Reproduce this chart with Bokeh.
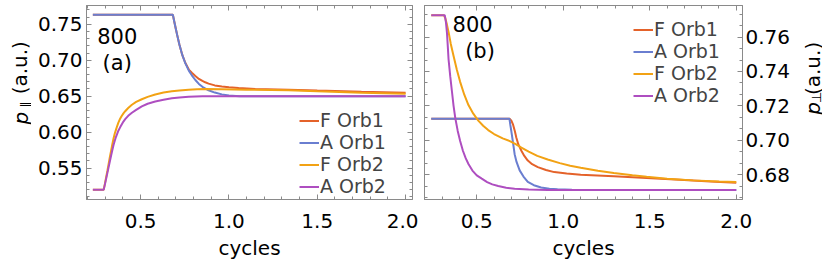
import math
from bokeh.plotting import figure
from bokeh.models import (Range1d, LinearAxis, SingleIntervalTicker, PrintfTickFormatter,
                          Legend, LegendItem, Label)
from bokeh.core.properties import value
from bokeh.layouts import row
from bokeh.embed import file_html
from bokeh.resources import INLINE

FONT = "DejaVu Sans"
FS = "20px"
C_F1 = "#E4622A"
C_A1 = "#6A7ED0"
C_F2 = "#F2A214"
C_A2 = "#AE4EC0"
FRAME = "#8A8A8A"
H = 262

series_names = ["F Orb1", "A Orb1", "F Orb2", "A Orb2"]
x_title = "cycles"
unit_text = "(a.u.)"

# ---------------- panel (a): p_parallel ----------------
a_F1_x = [0.23, 0.683, 0.69, 0.70, 0.708, 0.72, 0.736, 0.753, 0.773, 0.79, 0.81, 0.83, 0.85, 0.866,
          0.885, 0.92, 0.96, 1.0, 1.055, 1.149, 1.337, 1.5, 1.75, 2.0]
a_F1_y = [0.7631, 0.7631, 0.7545, 0.743, 0.7342, 0.7215, 0.7074, 0.6965, 0.687, 0.6825, 0.678,
          0.674, 0.6712, 0.6693, 0.6675, 0.665, 0.6635, 0.6623, 0.6613, 0.660, 0.659, 0.6578,
          0.6562, 0.6548]

a_A1_x = [0.23, 0.683, 0.69, 0.70, 0.708, 0.72, 0.736, 0.753, 0.773, 0.79, 0.81, 0.83, 0.85, 0.885,
          0.92, 0.96, 1.0, 1.06, 1.2, 2.0]
a_A1_y = [0.7631, 0.7631, 0.7545, 0.743, 0.7342, 0.7215, 0.7074, 0.696, 0.6855, 0.679, 0.6725,
          0.667, 0.663, 0.6582, 0.655, 0.6525, 0.651, 0.650, 0.6498, 0.6498]

a_F2_x = [0.23, 0.291, 0.298, 0.305, 0.312, 0.319, 0.326, 0.333, 0.34, 0.347, 0.354, 0.361, 0.368,
          0.375, 0.385, 0.394, 0.403, 0.413, 0.43, 0.451, 0.475, 0.507, 0.54, 0.583, 0.63, 0.677,
          0.72, 0.772, 0.82, 0.866, 0.96, 1.1, 1.337, 1.5, 1.75, 2.0]
a_F2_y = [0.5197, 0.5197, 0.528, 0.537, 0.546, 0.5554, 0.565, 0.574, 0.583, 0.5912, 0.598, 0.6035,
          0.6088, 0.6135, 0.619, 0.6228, 0.626, 0.6291, 0.6336, 0.6381, 0.642, 0.6457, 0.649,
          0.6524, 0.655, 0.6568, 0.658, 0.6591, 0.6597, 0.660, 0.6597, 0.659, 0.6582, 0.6567,
          0.6547, 0.6532]

a_A2_x = [0.23, 0.291, 0.298, 0.305, 0.312, 0.319, 0.326, 0.333, 0.34, 0.347, 0.354, 0.361, 0.368,
          0.375, 0.385, 0.394, 0.403, 0.413, 0.43, 0.451, 0.475, 0.507, 0.54, 0.583, 0.63, 0.677,
          0.72, 0.772, 0.85, 0.96, 2.0]
a_A2_y = [0.5197, 0.5197, 0.527, 0.535, 0.543, 0.551, 0.559, 0.567, 0.5748, 0.5822, 0.588, 0.5935,
          0.598, 0.6023, 0.607, 0.611, 0.6147, 0.618, 0.6227, 0.6269, 0.631, 0.6358, 0.6395,
          0.6425, 0.645, 0.647, 0.6483, 0.6492, 0.6498, 0.650, 0.650]

# ---------------- panel (b): p_perp ----------------
b_F1_x = [0.237, 0.691, 0.70, 0.71, 0.72, 0.729, 0.74, 0.758, 0.775, 0.795, 0.82, 0.853, 0.9, 0.948,
          1.02, 1.101, 1.292, 1.482, 1.673, 1.85, 2.0]
b_F1_y = [0.7125, 0.7125, 0.7115, 0.7091, 0.7055, 0.7015, 0.6978, 0.694, 0.691, 0.6883, 0.6862,
          0.6845, 0.6828, 0.6816, 0.6808, 0.6801, 0.6792, 0.6782, 0.6772, 0.6762, 0.6754]

b_A1_x = [0.237, 0.689, 0.694, 0.70, 0.71, 0.719, 0.73, 0.748, 0.77, 0.795, 0.83, 0.872, 0.92,
          0.967, 1.05, 1.101, 2.0]
b_A1_y = [0.7125, 0.7125, 0.709, 0.7053, 0.6985, 0.692, 0.6875, 0.6826, 0.679, 0.6759, 0.674,
          0.6727, 0.672, 0.6716, 0.6713, 0.6712, 0.6712]

b_F2_x = [0.237, 0.309, 0.318, 0.327, 0.337, 0.35, 0.366, 0.385, 0.404, 0.428, 0.452, 0.48, 0.509,
          0.537, 0.566, 0.6, 0.65, 0.691, 0.725, 0.758, 0.8, 0.85, 0.91, 0.98, 1.04, 1.101, 1.2,
          1.292, 1.4, 1.482, 1.6, 1.75, 1.9, 2.0]
b_F2_y = [0.7727, 0.7727, 0.771, 0.7675, 0.763, 0.756, 0.749, 0.741, 0.734, 0.7265, 0.7205,
          0.7155, 0.7115, 0.7085, 0.706, 0.7037, 0.7012, 0.6996, 0.6978, 0.6958, 0.6935, 0.691,
          0.6889, 0.6868, 0.6853, 0.6841, 0.6824, 0.6811, 0.6798, 0.6789, 0.6778, 0.6768, 0.6762,
          0.6759]

b_A2_x = [0.237, 0.315, 0.322, 0.328, 0.333, 0.337, 0.347, 0.357, 0.366, 0.376, 0.39, 0.404, 0.42,
          0.436, 0.452, 0.475, 0.5, 0.529, 0.56, 0.59, 0.624, 0.67, 0.719, 0.8, 0.91, 2.0]
b_A2_y = [0.7727, 0.7727, 0.7685, 0.7622, 0.754, 0.7471, 0.737, 0.7281, 0.7201, 0.7129, 0.7055,
          0.6997, 0.694, 0.6897, 0.6863, 0.6825, 0.6797, 0.6778, 0.6758, 0.6745, 0.6735, 0.6725,
          0.6719, 0.6715, 0.6712, 0.6712]

x_range_a = (0.194, 2.039)
y_range_a = (0.5063, 0.7761)
x_range_b = (0.198, 2.036)
y_range_b = (0.6657, 0.7783)


def style_axis(ax, ticker, fmt, show_labels):
    ax.ticker = ticker
    ax.formatter = PrintfTickFormatter(format=fmt)
    ax.axis_line_color = FRAME
    ax.major_tick_line_color = FRAME
    ax.minor_tick_line_color = FRAME
    ax.major_tick_in = 5
    ax.major_tick_out = 0
    ax.minor_tick_in = 3
    ax.minor_tick_out = 0
    ax.major_label_text_font = FONT
    ax.major_label_text_font_size = FS
    ax.major_label_text_color = "black"
    ax.axis_label_text_font = FONT
    ax.axis_label_text_font_size = FS
    ax.axis_label_text_font_style = "normal"
    ax.axis_label_text_color = "black"
    if not show_labels:
        ax.major_label_text_font_size = "1px"
        ax.major_label_text_color = None
        ax.major_label_standoff = 0


def txt(p, x, y, s, size="21px"):
    p.add_layout(Label(x=x, y=y, text=s, text_align="center", text_baseline="middle",
                       text_font=FONT, text_font_size=size, text_color="black"))


def make_panel(xs, ys, xr, yr, yint, yminor, yside, width, mb_left, mb_right, mb_top,
               legend_loc, tag, tag_pos, num_pos):
    p = figure(width=width, height=H, output_backend="svg", toolbar_location=None,
               x_range=Range1d(*xr), y_range=Range1d(*yr),
               x_axis_location="below", y_axis_location=yside,
               min_border_left=mb_left, min_border_right=mb_right,
               min_border_top=mb_top, min_border_bottom=59)
    p.grid.visible = False
    p.outline_line_color = FRAME
    p.background_fill_color = "white"
    p.border_fill_color = "white"

    xa = p.xaxis[0]
    style_axis(xa, SingleIntervalTicker(interval=0.5, num_minor_ticks=5), "%.1f", True)
    xa.axis_label = x_title
    xa.major_label_standoff = 14
    xa.axis_label_standoff = 5

    ya = p.yaxis[0]
    style_axis(ya, SingleIntervalTicker(interval=yint, num_minor_ticks=yminor), "%.2f", True)
    ya.major_label_standoff = 4 if yside == "left" else 3

    top = LinearAxis()
    style_axis(top, SingleIntervalTicker(interval=0.5, num_minor_ticks=5), "%.1f", False)
    p.add_layout(top, "above")
    other = LinearAxis()
    style_axis(other, SingleIntervalTicker(interval=yint, num_minor_ticks=yminor), "%.2f", False)
    p.add_layout(other, "left" if yside == "right" else "right")

    colors = [C_F1, C_A1, C_F2, C_A2]
    items = []
    for x, y, c, n in zip(xs, ys, colors, series_names):
        r = p.line(x, y, line_color=c, line_width=2)
        items.append(LegendItem(label=n, renderers=[r]))
    leg = Legend(items=items, location=legend_loc, padding=0, margin=0, spacing=0,
                 glyph_width=20, glyph_height=19, label_height=19, label_standoff=1,
                 border_line_color=None, background_fill_alpha=0,
                 label_text_font=FONT, label_text_font_size="19px")
    p.add_layout(leg, "center")

    txt(p, num_pos[0], num_pos[1], "800")
    txt(p, tag_pos[0], tag_pos[1], tag)
    return p


def title_strip(width, sym, p_pos, sub_pos, unit_pos):
    """Narrow figure holding the rotated y-axis title: italic p, subscript, unit.
    Positions: (local x of the text baseline, page y of the text centre)."""
    s = figure(width=width, height=H, output_backend="svg", toolbar_location=None,
               x_range=Range1d(0, width), y_range=Range1d(0, H),
               x_axis_type=None, y_axis_type=None,
               min_border_left=0, min_border_right=0, min_border_top=0, min_border_bottom=0)
    s.grid.visible = False
    s.outline_line_color = None
    s.background_fill_color = "white"
    s.border_fill_color = "white"
    rot = math.pi / 2
    s.text(x=[p_pos[0]], y=[H - p_pos[1]], text=["p"], angle=rot,
           text_font=value(FONT), text_font_size=value("20px"), text_font_style="italic",
           text_align="center", text_baseline="alphabetic", text_color="black")
    s.text(x=[sub_pos[0]], y=[H - sub_pos[1]], text=[sym], angle=rot,
           text_font=value(FONT), text_font_size=value("13px"),
           text_align="center", text_baseline="alphabetic", text_color="black")
    s.text(x=[unit_pos[0]], y=[H - unit_pos[1]], text=[unit_text], angle=rot,
           text_font=value(FONT), text_font_size=value("20px"),
           text_align="center", text_baseline="alphabetic", text_color="black")
    return s


# page x 0..31
sL = title_strip(31, "\u2225", (20, 152), (24.5, 134), (19, 84))
# page x 31..418, frame 86..412
pa = make_panel([a_F1_x, a_A1_x, a_F2_x, a_A2_x], [a_F1_y, a_A1_y, a_F2_y, a_A2_y],
                x_range_a, y_range_a, 0.05, 5, "left", 387, 55, 6, 2,
                (213, 2), "(a)", (0.368, 0.6957), (0.368, 0.7332))
# page x 418..793, frame 424..745
pb = make_panel([b_F1_x, b_A1_x, b_F2_x, b_A2_x], [b_F1_y, b_A1_y, b_F2_y, b_A2_y],
                x_range_b, y_range_b, 0.02, 3, "right", 375, 6, 48, 5,
                (209, 93), "(b)", (0.519, 0.7518), (0.476, 0.7675))
# page x 793..822
sR = title_strip(29, "\u22a5", (19, 139), (22.5, 124), (19, 85))

layout = row(sL, pa, pb, sR)
open("out.html", "w").write(file_html(layout, INLINE))
